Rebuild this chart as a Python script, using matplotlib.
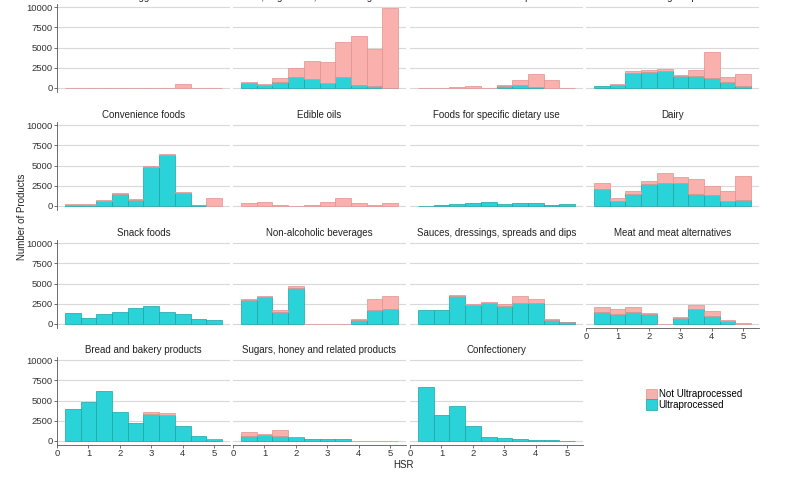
import numpy as np
import matplotlib
matplotlib.use("Agg")
import matplotlib.pyplot as plt
from matplotlib.patches import Patch

plt.rcParams['font.family'] = ['Liberation Sans', 'DejaVu Sans']

# HSR bins (centres, width 0.5)
hsr = [0.5, 1.0, 1.5, 2.0, 2.5, 3.0, 3.5, 4.0, 4.5, 5.0]

categories = [
    "Eggs", "Fruit, vegetables, nuts and legumes", "Seafood and seafood products",
    "Cereal and grain products", "Convenience foods", "Edible oils",
    "Foods for specific dietary use", "Dairy", "Snack foods",
    "Non-alcoholic beverages", "Sauces, dressings, spreads and dips",
    "Meat and meat alternatives", "Bread and bakery products",
    "Sugars, honey and related products", "Confectionery",
]

# counts per bin, Ultraprocessed (bottom of stack)
ultra = [
    [0, 0, 0, 0, 0, 0, 0, 0, 0, 0],
    [650, 400, 785, 1400, 1160, 580, 1400, 330, 200, 30],
    [0, 0, 0, 0, 0, 250, 330, 150, 0, 0],
    [200, 400, 1860, 1980, 2070, 1450, 1450, 1240, 740, 290],
    [170, 170, 620, 1490, 790, 4770, 6350, 1660, 80, 0],
    [0, 0, 0, 0, 0, 0, 0, 0, 0, 0],
    [40, 120, 290, 330, 540, 250, 330, 415, 80, 210],
    [2160, 580, 1450, 2660, 2860, 2820, 1490, 1330, 580, 700],
    [1410, 750, 1290, 1450, 1990, 2240, 1490, 1290, 580, 540],
    [2920, 3330, 1480, 4440, 0, 0, 0, 490, 1690, 1850],
    [1730, 1730, 3500, 2390, 2630, 2220, 2630, 2590, 490, 250],
    [1480, 1280, 1520, 1190, 0, 740, 1850, 990, 410, 0],
    [3900, 4770, 6170, 3540, 2180, 3370, 3170, 1810, 660, 200],
    [580, 750, 670, 500, 250, 210, 290, 0, 0, 0],
    [6680, 3240, 4280, 1870, 500, 330, 250, 80, 80, 40],
]

# counts per bin, Not Ultraprocessed (stacked on top)
not_ultra = [
    [40, 40, 40, 40, 40, 40, 40, 500, 40, 40],
    [50, 50, 495, 1040, 2140, 2680, 4260, 6070, 4630, 9850],
    [20, 20, 60, 250, 30, 80, 620, 1590, 950, 20],
    [0, 50, 210, 210, 280, 120, 780, 3180, 620, 1400],
    [80, 80, 130, 130, 120, 130, 120, 80, 90, 1040],
    [330, 500, 120, 20, 120, 540, 1040, 370, 170, 370],
    [0, 0, 0, 0, 0, 0, 0, 0, 0, 0],
    [700, 460, 420, 450, 1240, 790, 1830, 1200, 1290, 3030],
    [0, 0, 0, 0, 0, 0, 0, 0, 0, 0],
    [130, 90, 290, 290, 30, 30, 30, 130, 1440, 1570],
    [0, 0, 120, 120, 130, 250, 870, 460, 90, 40],
    [580, 530, 540, 130, 50, 80, 540, 610, 120, 80],
    [0, 0, 0, 0, 0, 170, 250, 0, 0, 90],
    [550, 170, 710, 40, 0, 0, 0, 50, 50, 50],
    [0, 0, 0, 0, 0, 0, 0, 0, 0, 0],
]

pink, pink_edge = '#FAB0AC', '#E0928E'
cyan, cyan_edge = '#2AD3D7', '#1AA3A7'
axcol = '#555555'

fig = plt.figure(figsize=(8, 4.8), dpi=100)

lefts = [57, 233, 410, 586]
tops = [4, 122, 240, 357]
w, h = 173, 88

for i, cat in enumerate(categories):
    r, c = divmod(i, 4)
    ax = fig.add_axes([lefts[c] / 800, 1 - (tops[r] + h) / 480, w / 800, h / 480])
    x = np.array(hsr)
    u = np.array(ultra[i])
    n = np.array(not_ultra[i])
    m = u > 0
    ax.bar(x[m], u[m], width=0.5, color=cyan, edgecolor=cyan_edge, linewidth=0.5, zorder=2)
    m = n > 0
    ax.bar(x[m], n[m], bottom=u[m], width=0.5, color=pink, edgecolor=pink_edge,
           linewidth=0.5, zorder=2)
    ax.set_xlim(0, 5.5)
    ax.set_ylim(-500, 10400)
    ax.set_yticks([0, 2500, 5000, 7500, 10000])
    ax.set_xticks([0, 1, 2, 3, 4, 5])
    ax.grid(axis='y', color='#d9d9d9', linewidth=0.8, zorder=0)
    ax.set_axisbelow(True)
    for s in ax.spines.values():
        s.set_visible(False)
    ax.tick_params(colors=axcol, labelsize=6.8, length=2, width=0.6, pad=1,
                   labelcolor='#333333')
    show_x = (r == 3) or (i == 11)
    show_y = (c == 0)
    if show_x:
        ax.spines['bottom'].set_visible(True)
        ax.spines['bottom'].set_color(axcol)
        ax.spines['bottom'].set_linewidth(0.6)
    else:
        ax.tick_params(axis='x', bottom=False, labelbottom=False)
    if show_y:
        ax.spines['left'].set_visible(True)
        ax.spines['left'].set_color(axcol)
        ax.spines['left'].set_linewidth(0.6)
    else:
        ax.tick_params(axis='y', left=False, labelleft=False)
    ax.set_title(cat, fontsize=7, color='#222222', pad=3)

fig.text(22 / 800, 1 - 217 / 480, 'Number of Products', rotation=90,
         ha='center', va='center', fontsize=7, color='#222222')
fig.text(404 / 800, 1 - 465 / 480, 'HSR', ha='center', va='center',
         fontsize=7, color='#222222')

handles = [Patch(facecolor=pink, edgecolor=pink_edge, linewidth=0.5),
           Patch(facecolor=cyan, edgecolor=cyan_edge, linewidth=0.5)]
fig.legend(handles, ['Not Ultraprocessed', 'Ultraprocessed'],
           loc='upper left', bbox_to_anchor=(642 / 800, 1 - 385 / 480),
           frameon=False, fontsize=7, handlelength=1.1, handleheight=1.3,
           labelspacing=0.0, handletextpad=0.2, borderaxespad=0)

fig.savefig('out.png', dpi=100)
